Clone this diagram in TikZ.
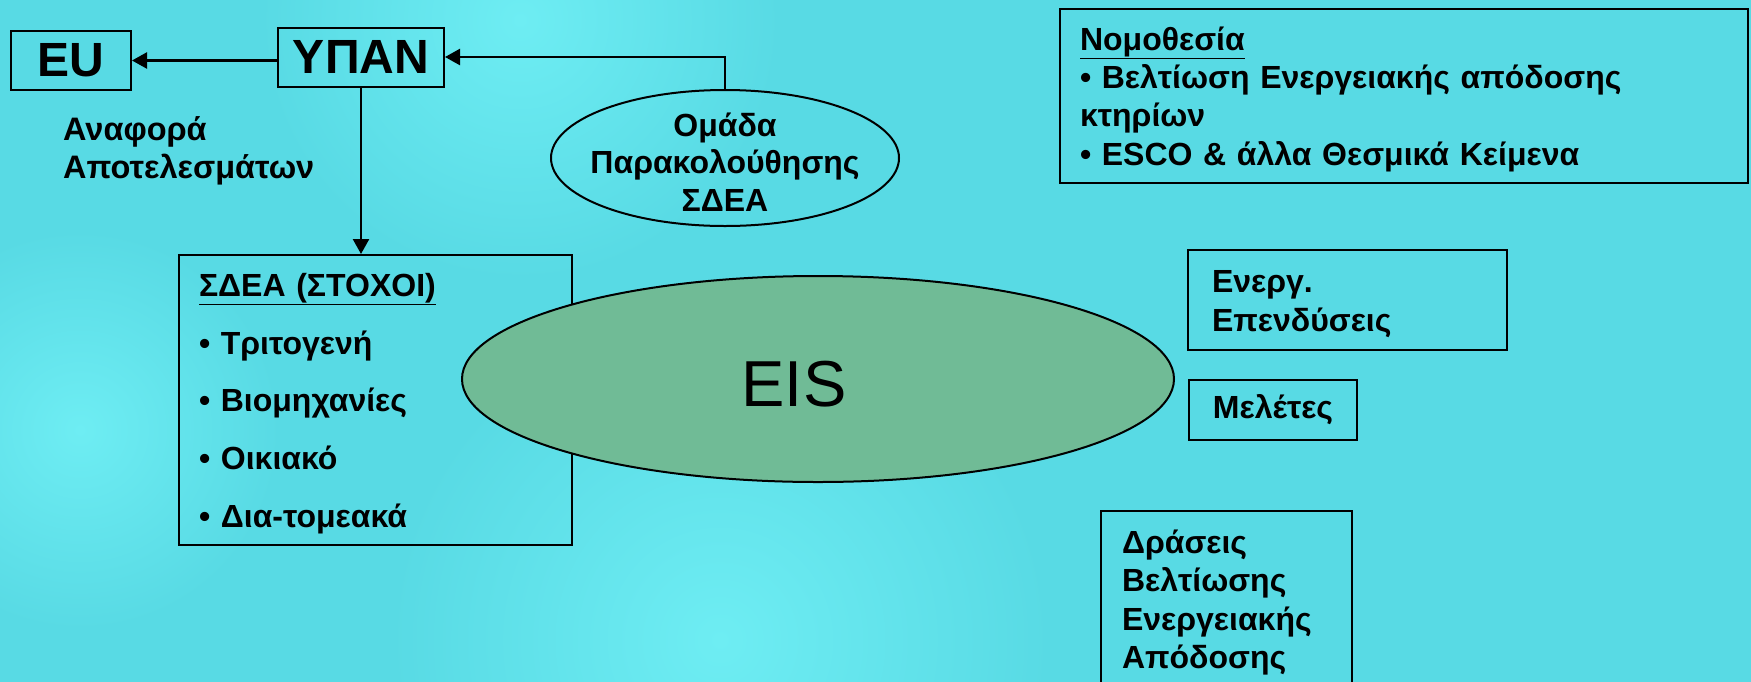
\documentclass[tikz,border=0pt]{standalone}
\usepackage{fontspec}
\setmainfont{Liberation Sans}
\usetikzlibrary{arrows.meta,positioning,shapes.geometric}
\definecolor{sbg}{HTML}{58DAE4}
\definecolor{sbglight}{HTML}{6EEDF3}
\definecolor{sgreen}{HTML}{70BB96}
\newcommand\txtfont{\fontsize{32}{38.3}\selectfont\bfseries}
\newcommand\bigfont{\fontsize{48}{52}\selectfont\bfseries}

\begin{document}
\begin{tikzpicture}[
  x=1pt, y=-1pt,
  box/.style={draw, line width=2pt, inner sep=0pt, font=\txtfont},
  oval/.style={draw, ellipse, line width=2pt, inner sep=0pt},
  arr/.style={-{Triangle[length=15pt,width=16pt]}, line width=2.4pt}]

  \useasboundingbox (0,0) rectangle (1751,681);
  \fill[sbg] (-5,-5) rectangle (1756,686);
  \shade[inner color=sbglight, outer color=sbg] (720,640) circle (330);
  \shade[inner color=sbglight, outer color=sbg] (520,20) circle (260);
  \shade[inner color=sbglight, outer color=sbg] (80,430) circle (200);

  % top left: ministry and EU
  \node[box, font=\bigfont, minimum width=120pt, minimum height=59pt] (eu) at (71,60.5) {EU};
  \node[box, font=\bigfont, minimum width=166pt, minimum height=59pt] (ypan) at (361,57) {ΥΠΑΝ};
  \node[font=\fontsize{32.5}{38}\selectfont\bfseries, align=left, anchor=west, inner sep=0pt] (report)
    at (63,151) {Αναφορά\\Αποτελεσμάτων};
  \node[oval, minimum width=348pt, minimum height=136pt,
        label={[font=\fontsize{32}{37.5}\selectfont\bfseries, align=center, yshift=-4pt]center:Ομάδα\\Παρακολούθησης\\ΣΔΕΑ}]
        (omada) at (725,158) {};

  % targets box, then the EIS ellipse over it
  \node[box, font={\fontsize{32}{57.75}\selectfont\bfseries}, align=left, text width=353pt,
        inner xsep=20pt, minimum height=290pt] (sdea) at (375.5,400)
    {\underline{\rule{0pt}{30pt}ΣΔΕΑ (ΣΤΟΧΟΙ)}\\• Τριτογενή\\• Βιομηχανίες\\• Οικιακό\\• Δια-τομεακά};
  \node[oval, fill=sgreen, minimum width=712pt, minimum height=206pt,
        label={[font=\fontsize{65}{70}\selectfont, xshift=-24pt, yshift=-5pt]center:EIS}]
        (eis) at (818,379) {};

  % right side
  \node[box, align=left, text width=648pt, inner xsep=20pt, minimum height=174pt] (law) at (1404,96)
    {\rule{0pt}{30pt}\underline{Νομοθεσία}\\• Βελτίωση Ενεργειακής απόδοσης\\κτηρίων\\• ESCO \& άλλα Θεσμικά Κείμενα};
  \node[box, align=left, text width=271pt, inner xsep=24pt, minimum height=100pt] (invest) at (1347.5,300)
    {\rule{0pt}{30pt}Ενεργ.\\Επενδύσεις};
  \node[box, minimum width=168pt, minimum height=60pt, below right=28pt and 1pt of invest.south west] (study)
    {Μελέτες};
  \node[box, align=left, text width=209pt, inner xsep=21pt, inner ysep=19pt, anchor=north west] (action)
    at (1100,510) {Δράσεις\\Βελτίωσης\\Ενεργειακής\\Απόδοσης};

  \draw[arr] (ypan.west |- eu.east) -- (eu.east);
  \draw[arr] (omada.north) |- (ypan.east);
  \draw[arr] (ypan.south) -- (ypan.south |- sdea.north);
\end{tikzpicture}
\end{document}
